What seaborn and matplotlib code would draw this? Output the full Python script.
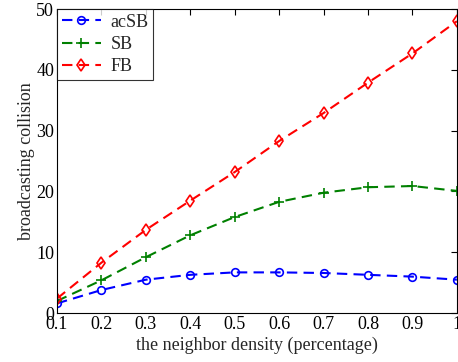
import numpy as np
import pandas as pd
import matplotlib
matplotlib.use('Agg')
import matplotlib.pyplot as plt
import seaborn as sns

# data
density = [0.1, 0.2, 0.3, 0.4, 0.5, 0.6, 0.7, 0.8, 0.9, 1.0]
acsb = [1.6, 3.8, 5.5, 6.3, 6.7, 6.7, 6.6, 6.3, 6.0, 5.5]
sb = [2.0, 5.4, 9.2, 12.8, 15.8, 18.3, 19.8, 20.7, 20.9, 20.1]
fb = [2.4, 8.3, 13.7, 18.5, 23.2, 28.3, 32.9, 37.9, 42.7, 48.0]

sns.set_style('white')
plt.rcParams['font.family'] = ['Liberation Serif', 'DejaVu Serif']

fig = plt.figure(figsize=(4.58, 3.62), dpi=100)
ax = fig.add_axes([0.1245, 0.135, 0.873, 0.84])

series = [('acSB', acsb, 'blue', 'o', 5.5),
          ('SB', sb, 'green', '+', 7),
          ('FB', fb, 'red', 'd', 6.5)]
for name, vals, col, mk, ms in series:
    df = pd.DataFrame({'x': density, 'y': vals})
    sns.lineplot(data=df, x='x', y='y', ax=ax, color=col, marker=mk,
                 markersize=ms, markerfacecolor='none', markeredgecolor=col,
                 markeredgewidth=1.2, linestyle=(0, (5, 3)), linewidth=1.5,
                 label=name, clip_on=True)

ax.set_xlim(0.1, 1.0)
ax.set_ylim(0, 50)
ax.set_xticks(density)
ax.set_xticklabels(['0.1', '0.2', '0.3', '0.4', '0.5', '0.6', '0.7', '0.8', '0.9', '1'])
ax.set_yticks([0, 10, 20, 30, 40, 50])
ax.tick_params(direction='in', top=True, right=True, labelsize=13, length=4,
               width=0.8, colors='black', pad=2)
for s in ax.spines.values():
    s.set_color('black')
    s.set_linewidth(0.8)
ax.set_xlabel('the neighbor density (percentage)', fontsize=13, labelpad=3)
ax.set_ylabel('broadcasting collision', fontsize=13, labelpad=1)

leg = ax.legend(loc='upper left', fontsize=13, frameon=True, fancybox=False,
                borderaxespad=0, handlelength=2.2, borderpad=0.25,
                labelspacing=0.3, handletextpad=0.5)
leg.get_frame().set_edgecolor('black')
leg.get_frame().set_linewidth(0.8)

fig.savefig('out.png', dpi=100)
